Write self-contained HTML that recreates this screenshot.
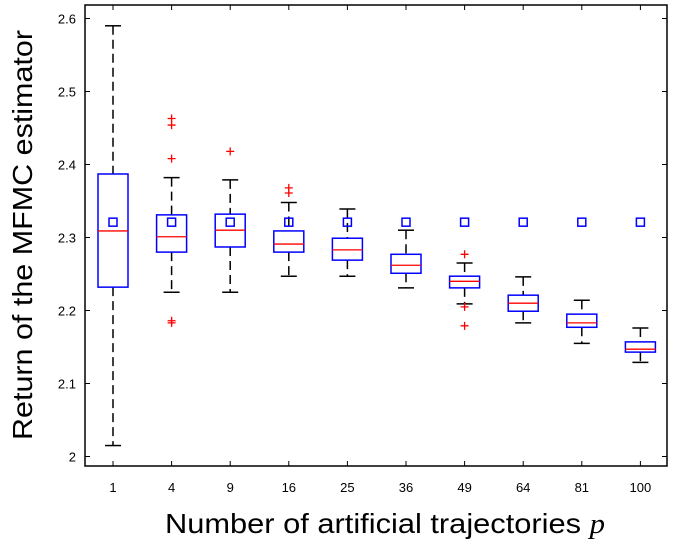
<!DOCTYPE html>
<html><head><meta charset="utf-8"><style>
body{margin:0;background:#fff}
svg{display:block}
text{font-family:"Liberation Sans",sans-serif}
</style></head><body>
<svg id="chart" width="675" height="544" xmlns="http://www.w3.org/2000/svg">
<rect x="85" y="5" width="582" height="461" fill="#fff" stroke="#000" stroke-width="1.5"/>
<g id="marks"></g>
<text x="165" y="533" font-size="28" textLength="440" lengthAdjust="spacingAndGlyphs">Number of artificial trajectories <tspan font-family="Liberation Serif" font-style="italic">p</tspan></text>
<text transform="translate(32,235) rotate(-90)" font-size="28" text-anchor="middle" textLength="410" lengthAdjust="spacingAndGlyphs">Return of the MFMC estimator</text>
</svg>
<script>
const categories=["1","4","9","16","25","36","49","64","81","100"];
const q1=[2.232,2.280,2.287,2.280,2.269,2.251,2.231,2.199,2.177,2.143];
const q3=[2.387,2.331,2.332,2.309,2.299,2.277,2.247,2.221,2.195,2.157];
const medians=[2.309,2.301,2.310,2.291,2.283,2.262,2.240,2.210,2.183,2.147];
const whiskerLow=[2.015,2.225,2.225,2.247,2.247,2.231,2.209,2.183,2.155,2.129];
const whiskerHigh=[2.590,2.382,2.379,2.348,2.339,2.310,2.265,2.246,2.214,2.176];
const means=[2.321,2.321,2.321,2.321,2.321,2.321,2.321,2.321,2.321,2.321];
const outliers=[[],[2.463,2.454,2.408,2.186,2.183],[2.418],[2.368,2.361],[],[],[2.277,2.205,2.179],[],[],[]];
const yTicks=["2","2.1","2.2","2.3","2.4","2.5","2.6"];
const NS="http://www.w3.org/2000/svg";
const g=document.getElementById('marks');
function y(v){return 456.5-(v-2)*730;}
function x(i){return 113+58.6*i;}
function mk(tag,attrs){const e=document.createElementNS(NS,tag);for(const k in attrs)e.setAttribute(k,attrs[k]);g.appendChild(e);return e;}
yTicks.forEach(t=>{const yy=y(parseFloat(t));
 let l=mk('line',{x1:85,x2:90,y1:yy,y2:yy,stroke:'#000'});
 
 
 let r=mk('line',{x1:662,x2:667,y1:yy,y2:yy,stroke:'#000'});
 
 
 let tx=mk('text',{x:76,y:yy+5,'font-size':13,'text-anchor':'end'});tx.textContent=t;
 
 
});
categories.forEach((c,i)=>{const cx=x(i),hw=15;
 let t1=mk('line',{x1:cx,x2:cx,y1:466,y2:461,stroke:'#000'});
 
 
 let t2=mk('line',{x1:cx,x2:cx,y1:5,y2:10,stroke:'#000'});
 
 
 let tl=mk('text',{x:cx,y:492,'font-size':13,'text-anchor':'middle'});tl.textContent=c;
 
 
 let w1=mk('line',{x1:cx,x2:cx,y1:y(whiskerHigh[i]),y2:y(q3[i]),stroke:'#000','stroke-width':1.5,'stroke-dasharray':'9,5'});
 
 
 let w2=mk('line',{x1:cx,x2:cx,y1:y(q1[i]),y2:y(whiskerLow[i]),stroke:'#000','stroke-width':1.5,'stroke-dasharray':'9,5'});
 
 
 [whiskerHigh[i],whiskerLow[i]].forEach(v=>{let c1=mk('line',{x1:cx-8,x2:cx+8,y1:y(v),y2:y(v),stroke:'#000','stroke-width':1.5});
  
  });
 let b=mk('rect',{x:cx-hw,y:y(q3[i]),width:2*hw,height:y(q1[i])-y(q3[i]),fill:'#fff',stroke:'#0000ff','stroke-width':1.5});
 
 
 let m=mk('line',{x1:cx-hw,x2:cx+hw,y1:y(medians[i]),y2:y(medians[i]),stroke:'#ff0000','stroke-width':1.3});
 
 
 let mn=mk('rect',{x:cx-4,y:y(means[i])-4,width:8,height:8,fill:'none',stroke:'#0000ff','stroke-width':1.5});
 
 
 outliers[i].forEach(v=>{const oy=y(v);
  let o=mk('path',{d:`M${cx-4},${oy}H${cx+4}M${cx},${oy-4}V${oy+4}`,stroke:'#ff0000','stroke-width':1.3});
  
  });
});
</script>
</body></html>
